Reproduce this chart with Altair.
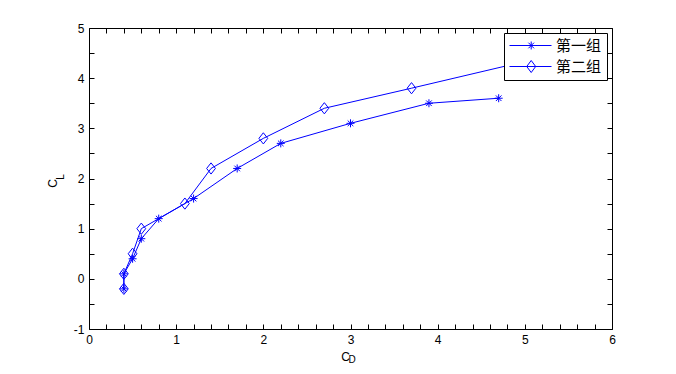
import altair as alt
import pandas as pd

# ---- data ----
names = ["第一组", "第二组"]
cd1 = [0.4, 0.4, 0.5, 0.6, 0.8, 1.2, 1.7, 2.2, 3.0, 3.9, 4.7]
cl1 = [-0.2, 0.1, 0.4, 0.8, 1.2, 1.6, 2.2, 2.7, 3.1, 3.5, 3.6]
cd2 = [0.4, 0.4, 0.5, 0.6, 1.1, 1.4, 2.0, 2.7, 3.7, 5.9]
cl2 = [-0.2, 0.1, 0.5, 1.0, 1.5, 2.2, 2.8, 3.4, 3.8, 4.7]

x_ticks = [round(i * 0.2, 1) for i in range(31)]
y_ticks = [-1 + 0.5 * i for i in range(13)]

rows = []
for i, (a, b) in enumerate(zip(cd1, cl1)):
    rows.append({"cd": a, "cl": b, "series": names[0], "idx": i})
for i, (a, b) in enumerate(zip(cd2, cl2)):
    rows.append({"cd": a, "cl": b, "series": names[1], "idx": i})
df = pd.DataFrame(rows)

BLUE = "#0000ff"
FONT = "Liberation Sans"

# marker shapes (unit = sqrt(size)/2)
STAR = "M0,-1L0,1M-1,0L1,0M-0.7,-0.7L0.7,0.7M-0.7,0.7L0.7,-0.7"
DIAM = "M0,-1.4L1.1,0L0,1.4L-1.1,0Z"
# legend symbols: line + marker (unit = 7 px)
LEG_STAR = "M-1,0L5,0M2.1,-0.57L2.1,0.57M1.7,-0.4L2.5,0.4M1.7,0.4L2.5,-0.4"
LEG_DIAM = "M-1,0L5,0M2.1,-0.86L2.74,0L2.1,0.86L1.46,0Z"

xs = alt.Scale(domain=[0, 6], nice=False, zero=False)
ys = alt.Scale(domain=[-1, 5], nice=False, zero=False)
lab_expr = "datum.value % 1 === 0 ? '' + datum.value : ''"

common_axis = dict(domain=False, grid=False, tickColor="black", tickWidth=1,
                   tickSize=5, offset=-5, labelOverlap=False, labelFlush=False,
                   labelBound=False)

lines = alt.Chart(df).mark_line(color=BLUE, strokeWidth=1, clip=True).encode(
    x=alt.X("cd:Q", scale=xs, axis=alt.Axis(
        orient="bottom", values=x_ticks, labelExpr=lab_expr, labelPadding=5,
        labelFont=FONT, labelFontSize=12, labelColor="black",
        title="C", titleFont=FONT, titleFontSize=12, titleFontWeight="normal",
        titleColor="black", titleX=256, titleY=32, titleAlign="center",
        titleBaseline="middle", **common_axis)),
    y=alt.Y("cl:Q", scale=ys, axis=alt.Axis(
        orient="left", values=y_ticks, labelExpr=lab_expr, labelPadding=5,
        labelFont=FONT, labelFontSize=12, labelColor="black",
        title="C", titleFont=FONT, titleFontSize=12, titleFontWeight="normal",
        titleColor="black", titleX=-42, titleY=155, titleAlign="center",
        titleBaseline="middle", titleAngle=270, **common_axis)),
    detail="series:N",
    order="idx:Q",
)

points = alt.Chart(df).mark_point(filled=False, size=64, strokeWidth=1,
                                  color=BLUE, opacity=1, clip=True).encode(
    x=alt.X("cd:Q", scale=xs, axis=alt.Axis(
        orient="top", values=x_ticks, labels=False, title=None, **common_axis)),
    y=alt.Y("cl:Q", scale=ys, axis=alt.Axis(
        orient="right", values=y_ticks, labels=False, title=None, **common_axis)),
    shape=alt.Shape("series:N", scale=alt.Scale(domain=names, range=[STAR, DIAM]),
                    legend=None),
)

legend_layer = alt.Chart(df).transform_filter("false").mark_point(
    filled=False, color=BLUE, strokeWidth=1, opacity=1).encode(
    shape=alt.Shape("series:N",
                    scale=alt.Scale(domain=names, range=[LEG_STAR, LEG_DIAM]),
                    legend=alt.Legend(
                        title=None, orient="top-right", offset=5, padding=5,
                        symbolSize=196, symbolStrokeColor=BLUE, symbolStrokeWidth=1,
                        symbolFillColor="transparent", labelOffset=32,
                        labelFont="Noto Sans CJK SC", labelFontSize=15,
                        labelColor="black", rowPadding=4,
                        strokeColor="black", fillColor="white", cornerRadius=0)),
)

sub_d = alt.Chart(pd.DataFrame({"t": ["D"]})).mark_text(
    font=FONT, fontSize=10, color="black", align="center", baseline="middle").encode(
    text="t:N", x=alt.value(263), y=alt.value(332))
sub_l = alt.Chart(pd.DataFrame({"t": ["L"]})).mark_text(
    font=FONT, fontSize=10, color="black", align="center", baseline="middle",
    angle=270).encode(
    text="t:N", x=alt.value(-28), y=alt.value(149))

chart = alt.layer(lines, points, legend_layer, sub_d, sub_l).resolve_scale(
    shape="independent").resolve_axis(x="independent", y="independent").properties(
    width=523, height=301,
    autosize=alt.AutoSizeParams(type="none"),
    padding={"left": 89, "top": 28, "right": 64, "bottom": 45},
    background="white",
).configure_view(stroke="black", strokeWidth=1)

chart.save("out.html", embed_options={"renderer": "svg", "actions": False})
